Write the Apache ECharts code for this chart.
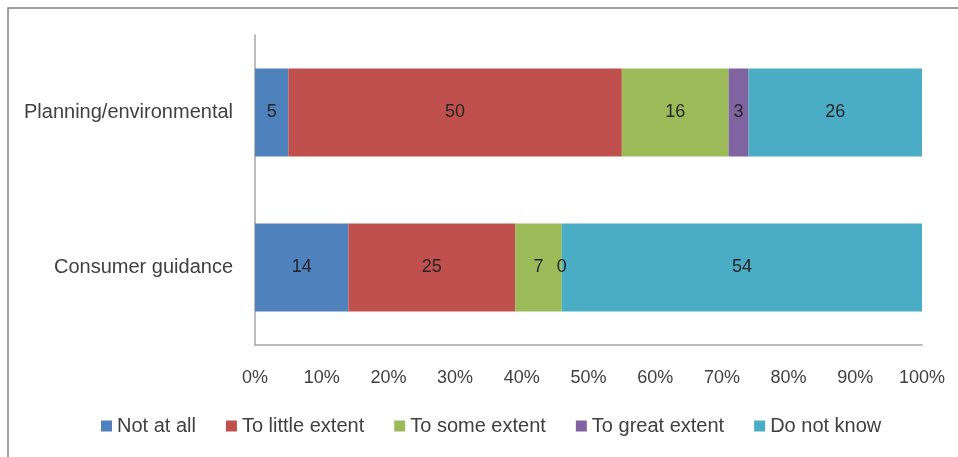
<!DOCTYPE html>
<html>
<head>
<meta charset="utf-8">
<script src="https://cdn.jsdelivr.net/npm/echarts@6/dist/echarts.min.js"></script>
<style>html,body{margin:0;padding:0;background:#fff}#c{width:958px;height:457px}</style>
</head>
<body>
<div id="c"></div>
<script>
var categories = ['Consumer guidance', 'Planning/environmental'];
var seriesNames = ['Not at all', 'To little extent', 'To some extent', 'To great extent', 'Do not know'];
var notAtAll = [14, 5];
var toLittleExtent = [25, 50];
var toSomeExtent = [7, 16];
var toGreatExtent = [0, 3];
var doNotKnow = [54, 26];
var tickValues = [0, 10, 20, 30, 40, 50, 60, 70, 80, 90, 100];

var colors = ['#4F81BD', '#C0504D', '#9BBB59', '#8064A2', '#4BACC6'];
var values = [notAtAll, toLittleExtent, toSomeExtent, toGreatExtent, doNotKnow];
var font = 'Liberation Sans, Arial, sans-serif';

var chart = echarts.init(document.getElementById('c'), null, {renderer: 'canvas'});
chart.setOption({
  animation: false,
  color: colors,
  graphic: [{
    type: 'rect',
    shape: {x: 8, y: 8, width: 1000, height: 500},
    style: {fill: 'none', stroke: '#808080', lineWidth: 1.5},
    silent: true
  }],
  grid: {left: 255, right: 36, top: 35, bottom: 112, containLabel: false},
  legend: {
    left: 96,
    top: 411,
    itemWidth: 11,
    itemHeight: 11,
    itemGap: 30,
    icon: 'rect',
    textStyle: {fontFamily: font, fontSize: 20, color: '#404040'},
    data: seriesNames
  },
  xAxis: {
    type: 'value',
    min: tickValues[0],
    max: tickValues[tickValues.length - 1],
    interval: 10,
    axisLine: {show: true, lineStyle: {color: '#A6A6A6', width: 1.5}},
    axisTick: {show: false},
    splitLine: {show: false},
    axisLabel: {formatter: '{value}%', fontFamily: font, fontSize: 18, color: '#404040', margin: 24}
  },
  yAxis: {
    type: 'category',
    data: categories,
    axisLine: {show: true, lineStyle: {color: '#A6A6A6', width: 1.5}},
    axisTick: {show: false},
    axisLabel: {fontFamily: font, fontSize: 20, color: '#404040', margin: 22}
  },
  series: seriesNames.map(function (n, i) {
    return {
      name: n,
      type: 'bar',
      stack: 'total',
      barWidth: 88,
      data: values[i],
      label: {
        show: true,
        position: 'inside',
        fontFamily: font,
        fontSize: 18,
        color: '#262626'
      }
    };
  })
});
</script>
</body>
</html>
